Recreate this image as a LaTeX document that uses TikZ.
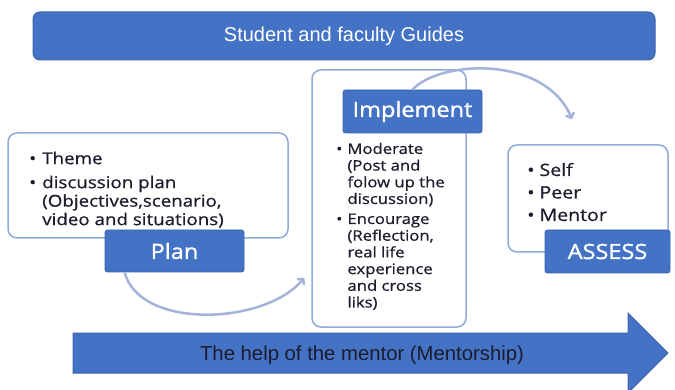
\documentclass[tikz,border=0pt]{standalone}
\usepackage{fontspec}
\setmainfont{Liberation Sans}
\newfontfamily\boxfont[FakeStretch=1.15,FakeBold=0.7]{Open Sans}
\newfontfamily\tagfont[FakeStretch=1.12,FakeBold=1.4]{Open Sans}
\usetikzlibrary{arrows.meta}
\definecolor{guideblue}{HTML}{4472C4}
\definecolor{edgeblue}{HTML}{3B64AD}
\definecolor{lineblue}{HTML}{8FAADC}
\definecolor{arcblue}{HTML}{A3B3DA}
\definecolor{darktext}{HTML}{1C1C2C}
\begin{document}
\begin{tikzpicture}[x=1pt, y=-1pt,
    banner/.style={draw=edgeblue, fill=guideblue, rounded corners=7pt, line width=1pt, text=white},
    panel/.style={draw=lineblue, fill=white, rounded corners=9pt, line width=1.5pt},
    tag/.style={draw=edgeblue, fill=guideblue, rounded corners=2.5pt, line width=0.8pt, text=white,
                font=\tagfont\fontsize{21}{24}\selectfont},
    points/.style={inner sep=0pt, anchor=north west, text=darktext},
    flow/.style={draw=arcblue, line width=2.5pt, -{Straight Barb[length=4pt,width=9pt]}},
]
  \useasboundingbox (0,0) rectangle (675,390);

  % top banner
  \node [banner, minimum width=622pt, minimum height=48pt, font=\fontsize{20}{24}\selectfont]
        (guides) at (344,36) {Student and faculty Guides};

  % plan
  \node [panel, minimum width=280pt, minimum height=105pt] (planbox) at (148,185.5) {};
  \node [points, font=\boxfont\fontsize{16.3}{18.5}\selectfont] (plantext) at (29,151)
        {\begin{tabular}{@{}l@{\hspace{6pt}}l@{}}
          \textbullet & Theme\\[5.5pt]
          \textbullet & discussion plan\\
                      & (Objectives,scenario,\\
                      & video and situations)
         \end{tabular}};
  \node [tag, minimum width=139pt, minimum height=42pt] (plantag) at (174.5,251) {Plan};

  % implement
  \node [panel, minimum width=154pt, minimum height=257pt] (impbox) at (389,198.5) {};
  \node [points, font=\boxfont\fontsize{14.5}{16.7}\selectfont] (imptext) at (336,142)
        {\begin{tabular}{@{}l@{\hspace{5pt}}l@{}}
          \textbullet & Moderate\\
                      & (Post and\\
                      & folow up the\\
                      & discussion)\\[3.3pt]
          \textbullet & Encourage\\
                      & (Reflection,\\
                      & real life\\
                      & experience\\
                      & and cross\\
                      & liks)
         \end{tabular}};
  \node [tag, minimum width=139pt, minimum height=43pt] (imptag) at (412.5,111.5) {Implement};

  % assess
  \node [panel, minimum width=160pt, minimum height=107pt] (assbox) at (588,198.5) {};
  \node [points, font=\boxfont\fontsize{17}{22.5}\selectfont] (asstext) at (527,160)
        {\begin{tabular}{@{}l@{\hspace{5pt}}l@{}}
          \textbullet & Self\\
          \textbullet & Peer\\
          \textbullet & Mentor
         \end{tabular}};
  \node [tag, minimum width=125pt, minimum height=43pt] (asstag) at (607.5,251.5) {ASSESS};

  % mentorship arrow
  \draw [banner, rounded corners=0pt] (73,333) -- (628,333) -- (628,313) -- (668,353)
        -- (628,393) -- (628,373) -- (73,373) -- cycle;
  \node [text=darktext, font=\fontsize{20.3}{24}\selectfont] (mentorship) at (362,355)
        {The help of the mentor (Mentorship)};

  % cycle arrows
  \draw [flow] ([xshift=20pt]plantag.south west) .. controls (140,330) and (265,325)
        .. ([xshift=-7pt,yshift=50pt]impbox.south west);
  \draw [flow] (imptag.north) .. controls (440,60) and (545,55)
        .. ([xshift=-16pt,yshift=25pt]assbox.north);
\end{tikzpicture}
\end{document}
